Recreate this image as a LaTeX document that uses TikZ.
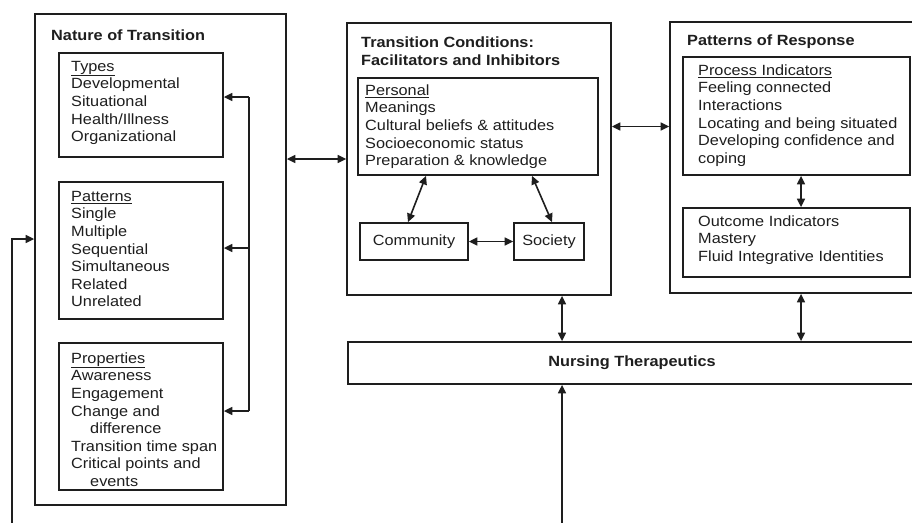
\documentclass[tikz,border=0pt]{standalone}
\usepackage{fontspec}
\setmainfont[FakeStretch=1.1]{Liberation Sans}
\usetikzlibrary{arrows.meta,fit}
\definecolor{ink}{RGB}{30,30,30}
\tikzset{
  box/.style={draw=ink, line width=1.8pt, inner sep=0pt},
  txt/.style={anchor=north west, inner sep=0pt, align=left, text=ink, font=\fontsize{14.8}{17.6}\selectfont},
  ttl/.style={txt, font=\fontsize{14.8}{18}\selectfont\bfseries},
  con/.style={draw=ink, line width=1.6pt},
  arr/.style={con, -{Triangle[length=8.5pt,width=8pt]}},
  biarr/.style={con, {Triangle[length=8.5pt,width=8pt]}-{Triangle[length=8.5pt,width=8pt]}},
}
\newcommand{\st}{\rule{0pt}{11pt}}
\begin{document}
\begin{tikzpicture}[x=1pt,y=-1pt]
\useasboundingbox (0,0) rectangle (912,522);
\fill[white] (0,0) rectangle (912,522);
\clip (0,0) rectangle (912,522);

% ---- boxes
\node[box, fit={(35,14) (286,505)}] (nat) {};
\node[box, fit={(59,53) (223,157)}] (types) {};
\node[box, fit={(59,182) (223,319)}] (pat) {};
\node[box, fit={(59,343) (223,490)}] (prop) {};

\node[box, fit={(347,23) (611,295)}] (tc) {};
\node[box, fit={(358,78) (598,175)}] (pers) {};
\node[box, minimum width=108pt, minimum height=37pt, text=ink, font=\fontsize{14.8}{17.6}\selectfont] (comm) at (414,241.5) {Community};
\node[box, minimum width=70pt, minimum height=37pt, text=ink, font=\fontsize{14.8}{17.6}\selectfont] (soc) at (549,241.5) {Society};

\node[box, fit={(670,22) (940,293)}] (pr) {};
\node[box, fit={(683,57) (910,175)}] (proc) {};
\node[box, fit={(683,208) (910,277)}] (out) {};

\node[box, fit={(348,342) (940,384)}] (nt) {};

% ---- texts
\node[ttl] (natT) at (51,29) {\st Nature of Transition};
\node[txt] (typesT) at (71,60) {\st\underline{Types}\\Developmental\\Situational\\Health/Illness\\Organizational};
\node[txt] (patT) at (71,190) {\st\underline{Patterns}\\Single\\Multiple\\Sequential\\Simultaneous\\Related\\Unrelated};
\node[txt] (propT) at (71,352) {\st\underline{Properties}\\Awareness\\Engagement\\Change and\\\hspace*{19pt}difference\\Transition time span\\Critical points and\\\hspace*{19pt}events};

\node[ttl] (tcT) at (361,36) {\st Transition Conditions:\\Facilitators and Inhibitors};
\node[txt] (persT) at (365,84) {\st\underline{Personal}\\Meanings\\Cultural beliefs \& attitudes\\Socioeconomic status\\Preparation \& knowledge};

\node[ttl] (prT) at (687,34) {\st Patterns of Response};
\node[txt] (procT) at (698,64) {\st\underline{Process Indicators}\\Feeling connected\\Interactions\\Locating and being situated\\Developing confidence and\\coping};
\node[txt] (outT) at (698,215) {\st Outcome Indicators\\Mastery\\Fluid Integrative Identities};

\node[ttl, anchor=center] (ntT) at (632,363) {Nursing Therapeutics};

% ---- connectors
\coordinate (br1) at (249,97);
\coordinate (br2) at (249,248);
\coordinate (br3) at (249,411);
\draw[con] (br1) -- (br3);
\draw[arr] (br1) -- (types.east |- br1);
\draw[arr] (br2) -- (pat.east |- br2);
\draw[arr] (br3) -- (prop.east |- br3);

\draw[biarr] (nat.east |- tc.west) -- (tc.west);
\draw[biarr] (tc.east |- pers.east) -- (pr.west |- pers.east);

\draw[biarr] ([xshift=-52pt]pers.south) -- ([xshift=-6pt]comm.north);
\draw[biarr] ([xshift=54pt]pers.south) -- ([xshift=3pt]soc.north);
\draw[biarr] (comm.east) -- (soc.west);

\coordinate (xr) at (801,0);
\draw[biarr] (proc.south -| xr) -- (out.north -| xr);
\draw[biarr] (pr.south -| xr) -- (nt.north -| xr);

\coordinate (xm) at (562,0);
\draw[biarr] (tc.south -| xm) -- (nt.north -| xm);
\coordinate (bot) at (562,524);
\draw[arr] (bot) -- (nt.south -| bot);

\coordinate (fb) at (12,524);
\coordinate (fbt) at (12,239);
\draw[arr] (fb) -- (fbt) -- (nat.west |- fbt);
\end{tikzpicture}
\end{document}
